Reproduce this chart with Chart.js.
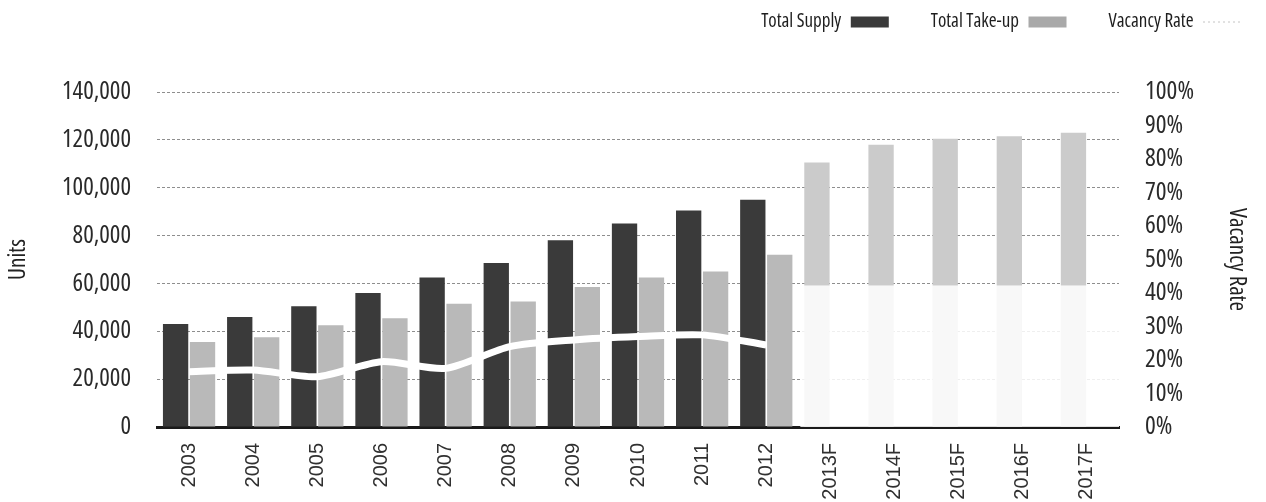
<!DOCTYPE html>
<html>
<head>
<meta charset="utf-8">
<script src="https://cdn.jsdelivr.net/npm/chart.js@4.4.0/dist/chart.umd.min.js"></script>
<style>
html,body{margin:0;padding:0;background:#ffffff;}
#wrap{width:1266px;height:502px;}
</style>
</head>
<body>
<div id="wrap"><canvas id="c" width="1266" height="502"></canvas></div>
<script>
// ---- data ----
const categories = ['2003','2004','2005','2006','2007','2008','2009','2010','2011','2012','2013F','2014F','2015F','2016F','2017F'];
const totalSupply = [43000,46000,50500,56000,62500,68500,78000,85000,90500,95000,110500,118000,120500,121500,123000];
const totalTakeUp = [35500,37500,42500,45500,51500,52500,58500,62500,65000,72000,null,null,null,null,null];
const vacancyRate = [16.5,17,15,19.5,17.5,24,26,27,27.5,24.5,null,null,null,null,null];
const unitTickLabels = ['0','20,000','40,000','60,000','80,000','100,000','120,000','140,000'];
const rateTickLabels = ['0%','10%','20%','30%','40%','50%','60%','70%','80%','90%','100%'];
const firstForecastIndex = 10;

// ---- style ----
const REGULAR = "'Liberation Sans',Arial,sans-serif";
const SUPPLY_COLOR = '#3a3a3a';
const FORECAST_COLOR = '#cbcbcb';
const TAKEUP_COLOR = '#b9b9b9';
const FADE_LEVEL = 60000;

// pick the narrowest installed sans face (the reference uses a condensed face)
const probe = document.createElement('canvas').getContext('2d');
function w(font, s) { probe.font = font; return probe.measureText(s).width; }
const SAMPLE = '140,000 Total Supply';
function installed(fam) {
  for (const base of ['monospace', 'serif']) {
    if (Math.abs(w('40px ' + base, SAMPLE) - w(`40px '${fam}', ${base}`, SAMPLE)) > 0.5) return true;
  }
  return false;
}
const candidates = [
  ['Liberation Sans Narrow', ''], ['Arial Narrow', ''], ['DejaVu Sans Condensed', ''],
  ['Noto Sans ExtraCondensed', ''], ['Noto Sans Condensed', ''], ['Roboto Condensed', ''],
  ['Open Sans Condensed', ''],
  ['Noto Sans', 'extra-condensed'], ['Noto Sans', 'condensed'], ['Open Sans', 'condensed'],
  ['Roboto', 'condensed'], ['Inter', 'condensed'], ['DejaVu Sans', 'condensed'],
  ['Liberation Sans', '']
];
let best = null;
for (const [fam, stretch] of candidates) {
  if (!installed(fam)) continue;
  const plain = w(`40px '${fam}', sans-serif`, SAMPLE);
  let width = plain;
  if (stretch) {
    width = w(`${stretch} 40px '${fam}', sans-serif`, SAMPLE);
    if (width > plain * 0.97) continue;
  }
  if (!best || width < best.width) best = { fam, stretch, width };
}
if (!best) best = { fam: 'Liberation Sans', stretch: '' };
const NARROW = `'${best.fam}', sans-serif`;
const STRETCH = best.stretch || 'normal';
function fitSize(text, target, maxSize) {
  const ref = w(`${best.stretch ? best.stretch + ' ' : ''}40px ${NARROW}`, text);
  return Math.min(maxSize, Math.round(40 * target / ref * 10) / 10);
}
const fontTicks = { family: NARROW, weight: STRETCH, size: fitSize('140,000', 69, 26) };
const fontRight = { family: NARROW, weight: STRETCH, size: fitSize('100%', 49, 26) };
const fontLegend = { family: NARROW, weight: STRETCH, size: fitSize('Total Supply', 80, 22) };
const fontUnits = { family: NARROW, weight: STRETCH, size: fitSize('Units', 41, 25) };
const fontVac = { family: NARROW, weight: STRETCH, size: fitSize('Vacancy Rate', 108, 23) };

// layout helpers (where the legend text and the plot top sit)
const LEGEND_GAP = 42;
const legendItemH = Math.max(fontLegend.size, 11);
const LEGEND_TEXT_Y = 22;
const PLOT_TOP = 92;
const layoutTop = LEGEND_TEXT_Y - LEGEND_GAP - legendItemH / 2;
const spacerPad = PLOT_TOP - (layoutTop + legendItemH + LEGEND_GAP + 10) - 12;

const fadePlugin = {
  id: 'fadeForecast',
  afterDatasetsDraw(chart) {
    const {ctx, chartArea, scales} = chart;
    const x = scales.x, y = scales.y;
    const x0 = (x.getPixelForValue(firstForecastIndex - 1) + x.getPixelForValue(firstForecastIndex)) / 2 + 2;
    const yTop = y.getPixelForValue(FADE_LEVEL) + 2;
    ctx.save();
    ctx.fillStyle = 'rgba(255,255,255,0.86)';
    ctx.fillRect(x0, yTop, chartArea.right - x0, chartArea.bottom - yTop);
    ctx.restore();
  }
};

new Chart(document.getElementById('c'), {
  type: 'bar',
  data: {
    labels: categories,
    datasets: [
      {
        type: 'line',
        label: 'Vacancy Rate',
        data: vacancyRate,
        yAxisID: 'y1',
        borderColor: '#ffffff',
        backgroundColor: '#ffffff',
        borderWidth: 7,
        pointRadius: 0,
        tension: 0.25,
        order: 0
      },
      {
        label: 'Total Supply',
        data: totalSupply,
        yAxisID: 'y',
        backgroundColor: (c) => c.dataIndex >= firstForecastIndex ? FORECAST_COLOR : SUPPLY_COLOR,
        order: 1,
        categoryPercentage: 0.84,
        barPercentage: 0.94
      },
      {
        label: 'Total Take-up',
        data: totalTakeUp,
        yAxisID: 'y',
        backgroundColor: TAKEUP_COLOR,
        order: 1,
        categoryPercentage: 0.84,
        barPercentage: 0.94
      }
    ]
  },
  options: {
    responsive: false,
    animation: false,
    devicePixelRatio: 1,
    layout: { padding: { top: layoutTop, right: -17, left: 0, bottom: 0 } },
    plugins: {
      tooltip: { enabled: false },
      title: {
        display: true,
        text: '',
        position: 'top',
        weight: 500,
        font: { size: 10, lineHeight: 1.2 },
        padding: { top: 0, bottom: spacerPad }
      },
      legend: {
        display: true,
        position: 'top',
        align: 'start',
        rtl: true,
        textDirection: 'ltr',
        labels: {
          usePointStyle: true,
          pointStyleWidth: 38,
          boxHeight: 11,
          padding: LEGEND_GAP,
          color: '#1e1e1e',
          font: fontLegend,
          generateLabels: () => [
            { text: 'Vacancy Rate', pointStyle: 'line', fillStyle: 'rgba(0,0,0,0)', strokeStyle: '#c4c4c4', lineWidth: 1, lineDash: [2, 3], fontColor: '#1e1e1e' },
            { text: 'Total Take-up', pointStyle: 'rect', fillStyle: '#a9a9a9', strokeStyle: '#a9a9a9', lineWidth: 0, fontColor: '#1e1e1e' },
            { text: 'Total Supply', pointStyle: 'rect', fillStyle: '#3a3a3a', strokeStyle: '#3a3a3a', lineWidth: 0, fontColor: '#1e1e1e' }
          ]
        }
      }
    },
    scales: {
      x: {
        z: 1,
        grid: { display: false },
        border: { display: true, color: '#1a1a1a', width: 3 },
        ticks: {
          autoSkip: false,
          minRotation: 90,
          maxRotation: 90,
          padding: 8,
          color: '#303030',
          font: { family: REGULAR, size: 20 }
        },
        afterFit(s) { s.height = 75; }
      },
      y: {
        position: 'left',
        min: 0,
        max: 140000,
        ticks: {
          autoSkip: false,
          stepSize: 20000,
          padding: 26,
          color: '#2a2a2a',
          font: fontTicks,
          callback: (v, i) => unitTickLabels[i]
        },
        grid: { color: '#8e8e8e', lineWidth: 1, drawTicks: false },
        border: { display: false, dash: [3, 2] },
        title: {
          display: true,
          text: 'Units',
          color: '#222222',
          font: fontUnits,
          padding: { top: 18 - fontUnits.size * 0.6, bottom: 0 }
        },
        afterFit(s) { s.width = 157; }
      },
      y1: {
        position: 'right',
        min: 0,
        max: 100,
        ticks: {
          autoSkip: false,
          stepSize: 10,
          padding: 26,
          color: '#2a2a2a',
          font: fontRight,
          callback: (v, i) => rateTickLabels[i]
        },
        grid: { display: false, drawTicks: false },
        border: { display: false },
        title: {
          display: true,
          text: 'Vacancy Rate',
          color: '#222222',
          font: fontVac,
          padding: { top: 46 - fontVac.size * 0.6, bottom: 0 }
        },
        afterFit(s) { s.width = 164; }
      }
    }
  },
  plugins: [fadePlugin]
});
</script>
</body>
</html>
